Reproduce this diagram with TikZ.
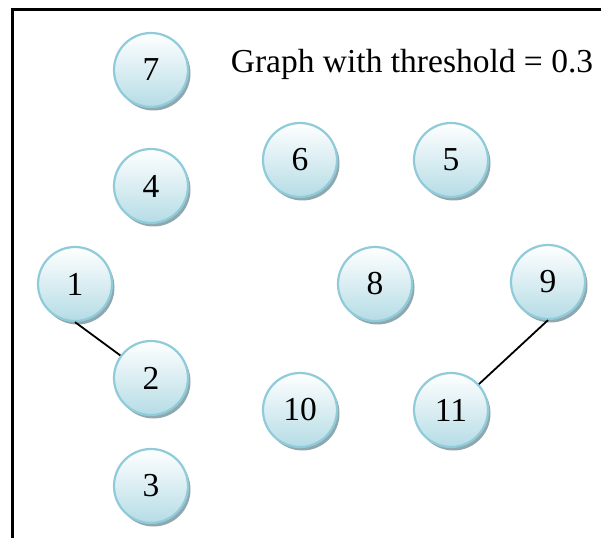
\documentclass[tikz,border=0pt]{standalone}
\usepackage{fontspec}
\setmainfont{Liberation Serif}
\usetikzlibrary{shadows}

\definecolor{ringblue}{HTML}{8FCBD9}
\definecolor{ballblue}{HTML}{B5DCE6}
\definecolor{shadowgray}{HTML}{8FA7AE}

\tikzset{
  vertex/.style={circle, minimum size=74pt, inner sep=0pt, draw=ringblue, line width=2.2pt,
    top color=white, bottom color=ballblue,
    drop shadow={shadow xshift=2.5pt, shadow yshift=-3.5pt, fill=shadowgray, opacity=1},
    font=\fontsize{33.5}{36}\selectfont},
  link/.style={line width=1.8pt, black}
}

\begin{document}
\begin{tikzpicture}[x=1pt, y=1pt]
      \useasboundingbox (0,0) rectangle (601,538);
      \draw[line width=3pt] (12,0) -- (12,528) -- (601,528);
      \node[font=\fontsize{33.5}{36}\selectfont, anchor=base] (title) at (412,465) {Graph with threshold = 0.3};
      \node[vertex] (n7) at (151,468) {7};
      \node[vertex] (n4) at (151,352) {4};
      \node[vertex] (n6) at (300,378) {6};
      \node[vertex] (n5) at (451,378) {5};
      \node[vertex] (n1) at (75,254) {1};
      \node[vertex] (n8) at (375,254) {8};
      \node[vertex] (n9) at (548,256) {9};
      \node[vertex] (n2) at (151,160) {2};
      \node[vertex] (n10) at (300,128) {10};
      \node[vertex] (n11) at (451,128) {11};
      \node[vertex] (n3) at (151,52) {3};
      \draw[link] (n1.south) -- (n2);
      \draw[link] (n9.south) -- (n11);
    \end{tikzpicture}
\end{document}
